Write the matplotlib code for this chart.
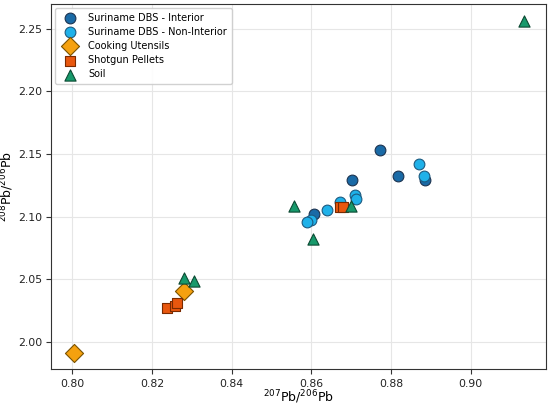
import matplotlib
matplotlib.use("Agg")
import matplotlib.pyplot as plt

# Suriname DBS - Interior
int_x = [0.8772, 0.8818, 0.8885, 0.8702, 0.8606]
int_y = [2.1529, 2.1325, 2.1292, 2.1295, 2.1018]
# Suriname DBS - Non-Interior
non_x = [0.8870, 0.8883, 0.8710, 0.8712, 0.8673, 0.8639, 0.8600, 0.8589]
non_y = [2.1423, 2.1325, 2.1175, 2.1143, 2.1115, 2.1055, 2.0975, 2.0958]
# Cooking Utensils
cook_x = [0.8003, 0.8279]
cook_y = [1.9915, 2.0410]
# Shotgun Pellets
shot_x = [0.8237, 0.8258, 0.8262, 0.8672, 0.8680]
shot_y = [2.0268, 2.0290, 2.0310, 2.1075, 2.1080]
# Soil
soil_x = [0.9133, 0.8556, 0.8700, 0.8603, 0.8281, 0.8305]
soil_y = [2.2565, 2.1085, 2.1085, 2.0823, 2.0508, 2.0484]

fig = plt.figure(figsize=(5.5, 4.08), dpi=100)
ax = fig.add_axes([0.093, 0.095, 0.900, 0.895])

ax.grid(True, color="#e6e6e6", linewidth=0.8, zorder=0)
ax.set_axisbelow(True)

ax.scatter(int_x, int_y, s=60, marker="o", color="#1a6aa6", edgecolors="#1c3350",
           linewidths=0.8, label="Suriname DBS - Interior", zorder=3)
ax.scatter(non_x, non_y, s=60, marker="o", color="#1fb1e9", edgecolors="#1c5a80",
           linewidths=0.8, label="Suriname DBS - Non-Interior", zorder=3)
ax.scatter(cook_x, cook_y, s=85, marker="D", color="#f5a10f", edgecolors="#7a5200",
           linewidths=0.8, label="Cooking Utensils", zorder=3)
ax.scatter(shot_x, shot_y, s=62, marker="s", color="#e8570e", edgecolors="#7a2a00",
           linewidths=0.8, label="Shotgun Pellets", zorder=3)
ax.scatter(soil_x, soil_y, s=65, marker="^", color="#17996b", edgecolors="#0c4a33",
           linewidths=0.8, label="Soil", zorder=3)

ax.set_xticks([0.80, 0.82, 0.84, 0.86, 0.88, 0.90])
ax.set_yticks([2.00, 2.05, 2.10, 2.15, 2.20, 2.25])
ax.set_xticklabels(["0.80", "0.82", "0.84", "0.86", "0.88", "0.90"])
ax.set_yticklabels(["2.00", "2.05", "2.10", "2.15", "2.20", "2.25"])
ax.tick_params(labelsize=7.8, color="#333333", labelcolor="#222222", length=3.5)
ax.tick_params(axis="y", pad=3)

ax.set_xlabel(r"$^{207}$Pb/$^{206}$Pb", fontsize=9)
ax.set_ylabel(r"$^{208}$Pb/$^{206}$Pb", fontsize=9)
ax.xaxis.set_label_coords(0.5, -0.052)
ax.yaxis.set_label_coords(-0.07, 0.5)

for sp in ax.spines.values():
    sp.set_color("#333333")

ax.legend(loc="upper left", fontsize=7, frameon=True, borderpad=0.5,
          handletextpad=0.9, labelspacing=0.42, framealpha=0.9,
          borderaxespad=0.4)

fig.savefig("out.png", dpi=100)
